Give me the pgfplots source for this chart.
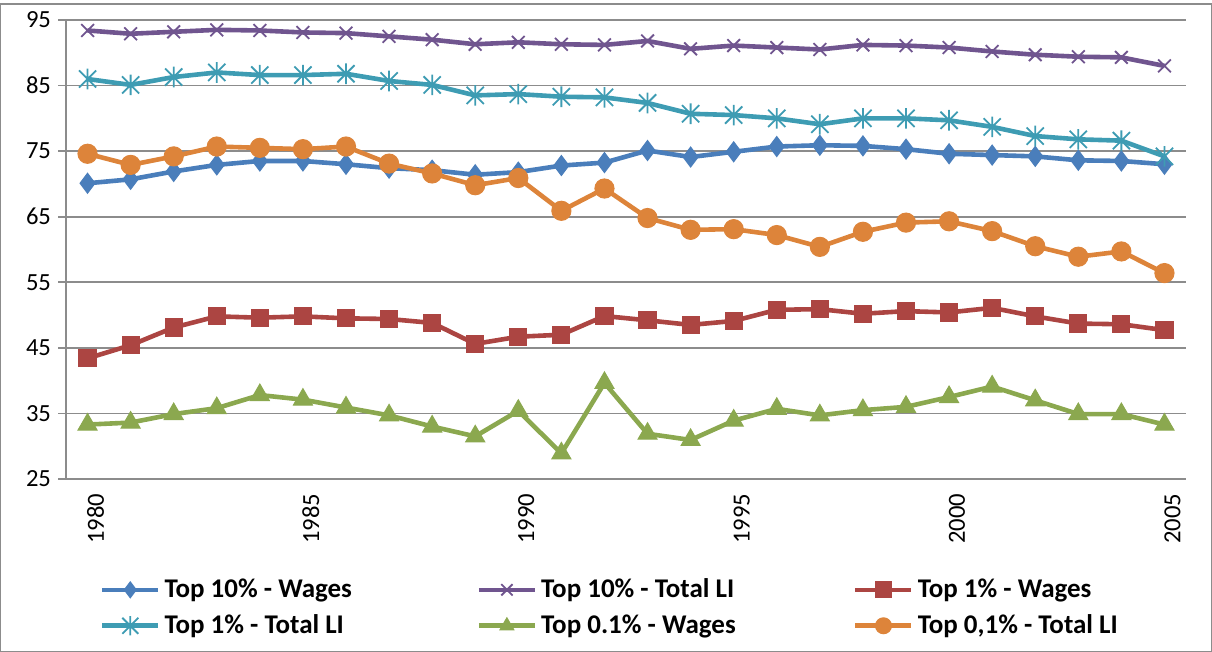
\documentclass[border=0pt]{standalone}
\usepackage{pgfplots}
\pgfplotsset{compat=1.18}
\usepackage{fontspec}
\setmainfont{Carlito}
\definecolor{cblue}{HTML}{4A7EBB}
\definecolor{cred}{HTML}{AC4542}
\definecolor{cgreen}{HTML}{8BA84F}
\definecolor{cpurple}{HTML}{70558F}
\definecolor{cteal}{HTML}{3E9CB3}
\definecolor{corange}{HTML}{DD843A}
\definecolor{cgrid}{HTML}{8C8C8C}
\pgfdeclareplotmark{xstar}{%
  \pgfpathmoveto{\pgfqpoint{-\pgfplotmarksize}{-\pgfplotmarksize}}%
  \pgfpathlineto{\pgfqpoint{\pgfplotmarksize}{\pgfplotmarksize}}%
  \pgfpathmoveto{\pgfqpoint{-\pgfplotmarksize}{\pgfplotmarksize}}%
  \pgfpathlineto{\pgfqpoint{\pgfplotmarksize}{-\pgfplotmarksize}}%
  \pgfpathmoveto{\pgfqpoint{0pt}{-1.2\pgfplotmarksize}}%
  \pgfpathlineto{\pgfqpoint{0pt}{1.2\pgfplotmarksize}}%
  \pgfusepathqstroke}
\begin{document}
\begin{tikzpicture}
\useasboundingbox (0,0) rectangle (606pt,-326pt);
\draw[color=cgrid, line width=0.6pt] (0.4pt,-2pt) rectangle (605.6pt,-325.6pt);
\begin{axis}[
  at={(33pt,-10pt)}, anchor=north west,
  scale only axis, width=560pt, height=229.5pt,
  xmin=1979.5, xmax=2005.5, ymin=25, ymax=95,
  clip=false,
  axis x line*=bottom, axis y line*=left,
  axis line style={color=cgrid, line width=0.8pt, -},
  ytick={25,35,45,55,65,75,85,95},
  ymajorgrids, major grid style={color=cgrid, line width=0.8pt},
  xtick={1980,1985,1990,1995,2000,2005},
  xticklabels={1980,1985,1990,1995,2000,2005},
  xtick style={draw=none},
  minor xtick={1979.5,1989.5,1999.5},
  minor tick style={color=cgrid, line width=0.8pt},
  ytick style={color=cgrid, line width=0.8pt},
  tick align=outside,
  major tick length=4pt, minor tick length=4pt,
  /pgf/number format/assume math mode=true,
  tick label style={font=\fontsize{12.3}{14}\selectfont, color=black},
  x tick label style={rotate=90, anchor=east, yshift=-4pt},
  legend columns=3,
  legend style={at={(0.03,-0.208)}, anchor=north west, draw=none, fill=none,
    font=\bfseries\fontsize{13.5}{15}\selectfont,
    /tikz/every even column/.append style={column sep=2pt},
    row sep=3pt, inner sep=0pt},
  legend image code/.code={\draw[mark repeat=2,mark phase=2, mark size=4pt] plot coordinates {(0pt,0pt) (14pt,0pt) (28pt,0pt)};},
  every axis plot/.append style={line width=2.3pt},
]
\addplot[color=cblue, mark=diamond*, mark size=5pt, mark options={solid, line width=0.5pt}] coordinates {
(1980,70.1) (1981,70.7) (1982,71.9) (1983,72.9) (1984,73.5) (1985,73.5) (1986,73.0) (1987,72.4) (1988,72.1) (1989,71.4) (1990,71.8) (1991,72.8) (1992,73.25) (1993,75.1) (1994,74.1) (1995,74.9) (1996,75.7) (1997,75.9) (1998,75.8) (1999,75.3) (2000,74.6) (2001,74.4) (2002,74.2) (2003,73.6) (2004,73.5) (2005,73.0)};
\addlegendentry{\makebox[152pt][l]{Top 10\% - Wages}}
\addplot[color=cpurple, mark=x, mark size=4.5pt, mark options={solid, line width=0.9pt}] coordinates {
(1980,93.4) (1981,92.9) (1982,93.2) (1983,93.5) (1984,93.4) (1985,93.1) (1986,93.0) (1987,92.5) (1988,92.0) (1989,91.3) (1990,91.6) (1991,91.3) (1992,91.2) (1993,91.8) (1994,90.6) (1995,91.1) (1996,90.8) (1997,90.5) (1998,91.2) (1999,91.1) (2000,90.8) (2001,90.2) (2002,89.7) (2003,89.4) (2004,89.3) (2005,88.0)};
\addlegendentry{\makebox[152pt][l]{Top 10\% - Total LI}}
\addplot[color=cred, mark=square*, mark size=4.3pt, mark options={solid, line width=0.5pt}] coordinates {
(1980,43.4) (1981,45.4) (1982,48.1) (1983,49.8) (1984,49.6) (1985,49.8) (1986,49.5) (1987,49.4) (1988,48.8) (1989,45.6) (1990,46.7) (1991,47.0) (1992,49.85) (1993,49.2) (1994,48.5) (1995,49.1) (1996,50.8) (1997,50.9) (1998,50.2) (1999,50.6) (2000,50.4) (2001,51.1) (2002,49.8) (2003,48.7) (2004,48.6) (2005,47.7)};
\addlegendentry{\makebox[152pt][l]{Top 1\% - Wages}}
\addplot[color=cteal, mark=xstar, mark size=4.3pt, mark options={solid, line width=0.9pt}] coordinates {
(1980,86.0) (1981,85.1) (1982,86.3) (1983,87.0) (1984,86.6) (1985,86.6) (1986,86.8) (1987,85.7) (1988,85.1) (1989,83.5) (1990,83.7) (1991,83.3) (1992,83.2) (1993,82.35) (1994,80.7) (1995,80.5) (1996,80.0) (1997,79.1) (1998,80.0) (1999,80.0) (2000,79.7) (2001,78.7) (2002,77.3) (2003,76.8) (2004,76.6) (2005,74.2)};
\addlegendentry{\makebox[152pt][l]{Top 1\% - Total LI}}
\addplot[color=cgreen, mark=triangle*, mark size=5.5pt, mark options={solid, line width=0.5pt}] coordinates {
(1980,33.3) (1981,33.6) (1982,34.9) (1983,35.8) (1984,37.8) (1985,37.1) (1986,35.9) (1987,34.7) (1988,33.0) (1989,31.5) (1990,35.4) (1991,28.9) (1992,39.65) (1993,31.9) (1994,30.95) (1995,33.9) (1996,35.7) (1997,34.7) (1998,35.5) (1999,36.0) (2000,37.5) (2001,39.1) (2002,37.0) (2003,34.9) (2004,34.9) (2005,33.3)};
\addlegendentry{\makebox[152pt][l]{Top 0.1\% - Wages}}
\addplot[color=corange, mark=*, mark size=4.8pt, mark options={solid, line width=0.5pt}] coordinates {
(1980,74.6) (1981,72.9) (1982,74.2) (1983,75.7) (1984,75.5) (1985,75.3) (1986,75.7) (1987,73.1) (1988,71.6) (1989,69.8) (1990,70.9) (1991,65.9) (1992,69.3) (1993,64.8) (1994,63.0) (1995,63.1) (1996,62.2) (1997,60.4) (1998,62.7) (1999,64.1) (2000,64.3) (2001,62.8) (2002,60.5) (2003,58.9) (2004,59.7) (2005,56.4)};
\addlegendentry{\makebox[152pt][l]{Top 0,1\% - Total LI}}
\end{axis}
\end{tikzpicture}
\end{document}
